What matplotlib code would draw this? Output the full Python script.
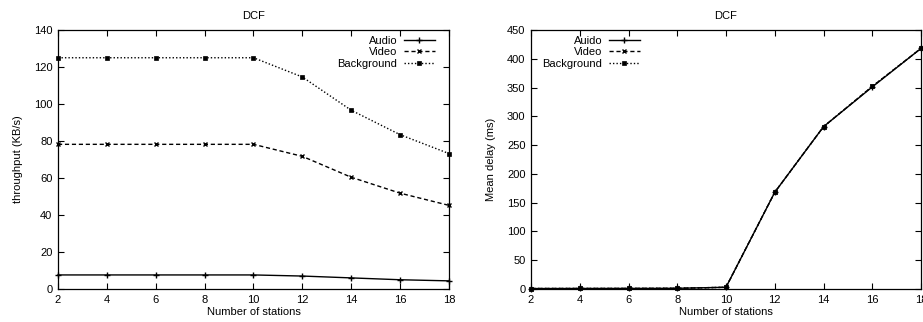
import matplotlib
matplotlib.use("Agg")
import matplotlib.pyplot as plt

plt.rcParams['font.family'] = ['Liberation Sans', 'DejaVu Sans']
plt.rcParams['font.size'] = 8

stations = [2, 4, 6, 8, 10, 12, 14, 16, 18]
thr_audio = [7.6, 7.6, 7.6, 7.6, 7.6, 7.0, 6.0, 5.0, 4.4]
thr_video = [78.2, 78.2, 78.2, 78.2, 78.2, 71.7, 60.4, 51.8, 45.2]
thr_bg = [125.0, 125.0, 125.0, 125.0, 125.0, 114.6, 96.6, 83.4, 73.2]

delay_audio = [0.8, 0.9, 1.0, 1.2, 3.0, 168, 282, 351, 418]
delay_video = [0.8, 0.9, 1.0, 1.2, 3.0, 168, 282, 352, 418]
delay_bg = [0.8, 0.9, 1.0, 1.2, 3.0, 168, 282, 352, 418]

fig = plt.figure(figsize=(9.23, 3.22), dpi=100)
W, H = 923, 322
def ax_at(x0, x1, y0, y1):
    return fig.add_axes([x0 / W, 1 - y1 / H, (x1 - x0) / W, (y1 - y0) / H])

ax1 = ax_at(58, 449, 30, 289)
ax2 = ax_at(531, 921, 30, 289)

styles = [
    dict(ls='-', marker='+', ms=4, mew=1.0),
    dict(ls=(0, (3, 2)), marker='x', ms=3.5, mew=1.0),
    dict(ls=(0, (1, 1.5)), marker='s', ms=3, mew=0.5),
]

for ax, series, labels in [
    (ax1, [thr_audio, thr_video, thr_bg], ['Audio', 'Video', 'Background']),
    (ax2, [delay_audio, delay_video, delay_bg], ['Auido', 'Video', 'Background']),
]:
    for vals, lab, st in zip(series, labels, styles):
        ax.plot(stations, vals, color='black', lw=1.0, label=lab, clip_on=False, **st)
    ax.set_xlim(2, 18)
    ax.set_xticks(stations)
    ax.tick_params(direction='in', top=True, right=True, length=4, width=0.8, pad=4)
    ax.set_xlabel('Number of stations', labelpad=2)
    ax.set_title('DCF', pad=8, fontsize=8)
    for s in ax.spines.values():
        s.set_linewidth(0.9)

leg_kw = dict(frameon=False, markerfirst=False, handlelength=2.8, fontsize=8,
              handletextpad=0.6, labelspacing=0.12, borderpad=0, borderaxespad=0,
              loc='upper right', bbox_transform=fig.transFigure)

ax1.set_ylim(0, 140)
ax1.set_yticks(range(0, 141, 20))
ax1.set_ylabel('throughput (KB/s)', labelpad=8)
ax1.legend(bbox_to_anchor=(435 / W, 1 - 36 / H), **leg_kw)

ax2.set_ylim(0, 450)
ax2.set_yticks(range(0, 451, 50))
ax2.set_ylabel('Mean delay (ms)', labelpad=8)
ax2.legend(bbox_to_anchor=(640 / W, 1 - 36 / H), **leg_kw)

fig.savefig('out.png', dpi=100)
